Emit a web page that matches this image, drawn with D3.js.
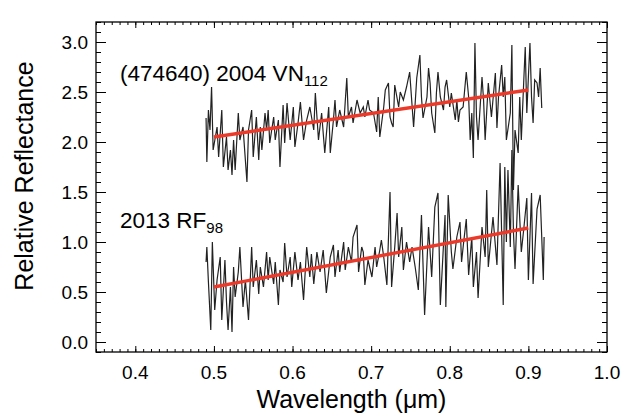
<!DOCTYPE html>
<html><head><meta charset="utf-8">
<script src="https://cdn.jsdelivr.net/npm/d3@7"></script>
<style>body{margin:0;background:#fff}svg{display:block}text{font-family:"Liberation Sans",Arial,Helvetica,sans-serif;fill:#000}</style>
</head><body><div id="chart"></div>
<script>
// ---- data ----
const vnWave = [0.490,0.491,0.493,0.495,0.497,0.499,0.504,0.506,0.510,0.512,0.516,0.518,0.521,0.523,0.525,0.527,0.531,0.533,0.537,0.542,0.544,0.548,0.550,0.554,0.557,0.559,0.561,0.565,0.567,0.569,0.571,0.576,0.578,0.582,0.584,0.588,0.590,0.593,0.597,0.601,0.603,0.607,0.610,0.614,0.618,0.622,0.627,0.629,0.633,0.637,0.641,0.646,0.648,0.652,0.654,0.656,0.660,0.665,0.667,0.669,0.671,0.675,0.677,0.682,0.686,0.690,0.692,0.696,0.698,0.703,0.707,0.709,0.711,0.716,0.718,0.722,0.724,0.726,0.728,0.730,0.735,0.737,0.741,0.745,0.749,0.754,0.756,0.758,0.762,0.764,0.766,0.771,0.773,0.775,0.777,0.781,0.783,0.785,0.788,0.792,0.794,0.796,0.800,0.802,0.807,0.809,0.811,0.813,0.817,0.821,0.824,0.826,0.828,0.830,0.832,0.834,0.836,0.841,0.843,0.845,0.849,0.851,0.853,0.858,0.860,0.862,0.866,0.868,0.870,0.872,0.877,0.879,0.881,0.883,0.887,0.889,0.891,0.894,0.896,0.898,0.900,0.902,0.904,0.906,0.908,0.911,0.913,0.915,0.917];
const vnRefl = [2.24,1.80,2.32,2.12,2.55,1.92,2.15,1.85,2.32,1.75,2.05,1.72,1.92,1.67,2.02,1.72,2.29,2.02,2.15,1.60,2.12,2.32,1.85,2.25,1.82,2.15,1.92,2.29,2.12,2.32,1.99,2.25,2.02,2.22,1.75,2.37,1.99,2.39,2.02,2.35,1.95,2.19,2.40,2.02,2.22,2.35,2.12,2.49,2.02,2.29,1.89,2.35,1.89,2.22,2.42,2.15,2.32,2.15,2.40,2.64,2.25,2.35,2.19,2.42,2.29,2.35,2.25,2.42,2.32,2.29,2.10,2.45,2.05,2.35,2.52,2.59,2.25,2.19,2.15,2.57,2.35,2.50,2.42,2.55,2.70,2.15,2.39,2.64,2.87,2.45,2.24,2.45,2.74,2.59,2.29,2.09,2.49,2.70,2.45,2.32,2.55,2.62,2.35,2.49,2.22,2.42,2.20,2.32,2.35,2.70,2.45,2.02,2.29,1.84,2.99,2.25,2.02,2.65,2.42,2.02,2.59,2.42,2.25,2.69,2.14,2.45,2.77,2.45,2.65,2.02,2.29,2.97,1.52,2.12,1.89,2.45,2.02,2.59,2.95,2.29,2.65,2.99,2.45,2.19,2.62,2.59,2.45,2.74,2.34];
const rfWave = [0.490,0.491,0.493,0.496,0.498,0.501,0.504,0.508,0.510,0.514,0.516,0.518,0.521,0.523,0.525,0.527,0.531,0.533,0.537,0.540,0.544,0.548,0.550,0.554,0.557,0.559,0.563,0.567,0.569,0.571,0.576,0.578,0.582,0.584,0.588,0.590,0.593,0.597,0.599,0.603,0.607,0.610,0.614,0.618,0.622,0.624,0.627,0.631,0.635,0.639,0.643,0.648,0.652,0.654,0.658,0.660,0.665,0.667,0.671,0.675,0.677,0.682,0.684,0.688,0.690,0.692,0.696,0.701,0.705,0.707,0.711,0.713,0.716,0.720,0.724,0.726,0.730,0.733,0.735,0.739,0.741,0.745,0.749,0.752,0.756,0.760,0.764,0.768,0.773,0.777,0.781,0.785,0.788,0.794,0.795,0.798,0.802,0.804,0.809,0.813,0.815,0.817,0.821,0.824,0.828,0.830,0.834,0.836,0.841,0.845,0.847,0.849,0.855,0.860,0.864,0.868,0.870,0.872,0.874,0.877,0.879,0.881,0.883,0.887,0.891,0.894,0.898,0.900,0.904,0.906,0.911,0.915,0.919,0.920];
const rfRefl = [0.80,0.95,0.60,0.12,1.00,0.32,0.62,0.85,0.22,0.82,0.40,0.12,0.55,0.10,0.75,0.45,0.70,0.95,0.35,0.62,0.22,0.95,0.55,0.82,0.48,0.75,0.55,0.90,0.62,0.85,0.58,0.80,0.37,0.72,0.60,0.99,0.65,0.85,0.55,0.90,0.62,0.80,0.42,0.95,0.65,0.88,0.58,0.90,0.70,0.92,0.49,0.85,0.97,0.65,0.92,0.70,1.00,0.72,0.95,0.80,1.05,1.17,0.70,0.95,0.90,0.57,0.82,0.65,0.95,0.75,0.92,1.02,0.85,0.57,1.50,0.55,0.95,1.29,0.85,1.15,0.72,1.00,0.80,0.95,0.75,0.52,1.27,0.27,1.15,0.65,1.35,1.49,0.37,1.27,0.35,1.47,0.90,0.73,1.05,1.20,0.80,0.95,1.23,0.67,1.05,0.55,0.90,0.44,1.15,0.85,1.52,0.75,1.25,0.77,1.79,0.37,1.75,1.00,1.72,0.95,1.92,1.10,0.73,1.57,0.90,1.12,1.44,0.62,1.49,0.58,1.33,1.47,0.62,1.05];
const fitWave = [0.50, 0.90];
const vnFit = [2.05, 2.52];
const rfFit = [0.55, 1.14];
const xTickValues = [0.4,0.5,0.6,0.7,0.8,0.9,1.0];
const yTickValues = [0.0,0.5,1.0,1.5,2.0,2.5,3.0];
const xLabel = "Wavelength (\u03BCm)";
const yLabel = "Relative Reflectance";

// ---- chart ----
const W = 630, H = 419;
const m = {left:96, top:22, right:630-607, bottom:419-352};
const svg = d3.select("#chart").append("svg").attr("width",W).attr("height",H);
const x = d3.scaleLinear().domain([0.35,1.0]).range([m.left, W-m.right]);
const y = d3.scaleLinear().domain([-0.1,3.2]).range([H-m.bottom, m.top]);
const pw = W-m.right-m.left, ph = H-m.bottom-m.top;

const xMinor = d3.range(35,101).map(d=>d/100);
const yMinor = d3.range(-1,33).map(d=>d/10);

function axisStyle(g){ g.select(".domain").remove(); g.selectAll("line").attr("stroke","#000").attr("stroke-width",1); }

svg.append("g").attr("transform",`translate(0,${H-m.bottom})`)
  .call(d3.axisTop(x).tickValues(xMinor).tickSize(3).tickFormat("")).call(axisStyle);
svg.append("g").attr("transform",`translate(0,${H-m.bottom})`)
  .call(d3.axisTop(x).tickValues(xTickValues).tickSize(6).tickFormat("")).call(axisStyle);
svg.append("g").attr("transform",`translate(0,${m.top})`)
  .call(d3.axisBottom(x).tickValues(xMinor).tickSize(3).tickFormat("")).call(axisStyle);
svg.append("g").attr("transform",`translate(0,${m.top})`)
  .call(d3.axisBottom(x).tickValues(xTickValues).tickSize(6).tickFormat("")).call(axisStyle);
svg.append("g").attr("transform",`translate(${m.left},0)`)
  .call(d3.axisRight(y).tickValues(yMinor).tickSize(5).tickFormat("")).call(axisStyle);
svg.append("g").attr("transform",`translate(${m.left},0)`)
  .call(d3.axisRight(y).tickValues(yTickValues).tickSize(10).tickFormat("")).call(axisStyle);
svg.append("g").attr("transform",`translate(${W-m.right},0)`)
  .call(d3.axisLeft(y).tickValues(yMinor).tickSize(5).tickFormat("")).call(axisStyle);
svg.append("g").attr("transform",`translate(${W-m.right},0)`)
  .call(d3.axisLeft(y).tickValues(yTickValues).tickSize(10).tickFormat("")).call(axisStyle);

// tick labels
svg.append("g").selectAll("text").data(xTickValues).join("text")
  .attr("x",d=>x(d)).attr("y",H-m.bottom+27).attr("text-anchor","middle")
  .attr("font-size",19).text(d=>d3.format(".1f")(d));
svg.append("g").selectAll("text").data(yTickValues).join("text")
  .attr("x",m.left-8).attr("y",d=>y(d)+7).attr("text-anchor","end")
  .attr("font-size",19).text(d=>d3.format(".1f")(d));

// frame
svg.append("rect").attr("x",m.left).attr("y",m.top).attr("width",pw).attr("height",ph)
  .attr("fill","none").attr("stroke","#000").attr("stroke-width",1.3);

// spectra
const line = d3.line().x(d=>x(d[0])).y(d=>y(d[1]));
svg.append("path").datum(d3.zip(vnWave,vnRefl)).attr("d",line)
  .attr("fill","none").attr("stroke","#222").attr("stroke-width",1.2);
svg.append("path").datum(d3.zip(rfWave,rfRefl)).attr("d",line)
  .attr("fill","none").attr("stroke","#222").attr("stroke-width",1.2);
// fits
svg.append("path").datum(d3.zip(fitWave,vnFit)).attr("d",line)
  .attr("fill","none").attr("stroke","#ec3a2a").attr("stroke-width",3.4);
svg.append("path").datum(d3.zip(fitWave,rfFit)).attr("d",line)
  .attr("fill","none").attr("stroke","#ec3a2a").attr("stroke-width",3.4);

// labels
const t1 = svg.append("text").attr("x",120).attr("y",81).attr("font-size",22.5);
t1.append("tspan").text("(474640) 2004 VN");
t1.append("tspan").attr("font-size",15).attr("dy",5).text("112");
const t2 = svg.append("text").attr("x",120).attr("y",228).attr("font-size",22.5);
t2.append("tspan").text("2013 RF");
t2.append("tspan").attr("font-size",15).attr("dy",5).text("98");

// axis titles
svg.append("text").attr("x",x(0.675)).attr("y",408).attr("text-anchor","middle")
  .attr("font-size",25).text(xLabel);
svg.append("text").attr("transform",`translate(33,176) rotate(-90)`)
  .attr("text-anchor","middle").attr("font-size",25).text(yLabel);
</script></body></html>
